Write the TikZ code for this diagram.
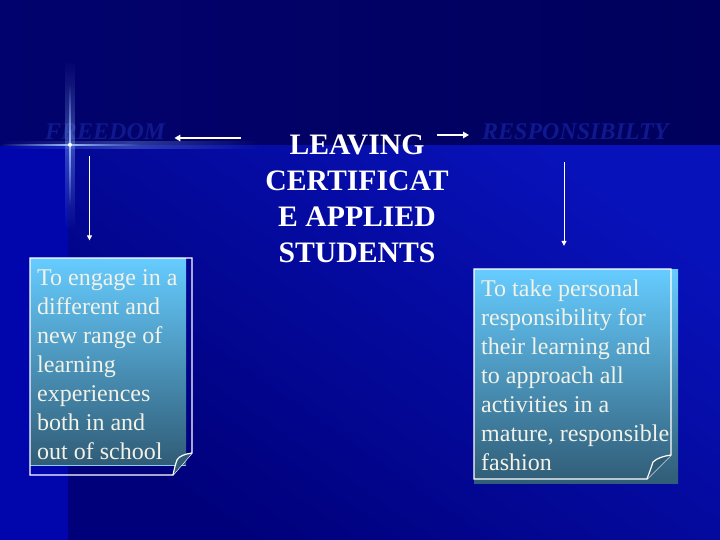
\documentclass[tikz,border=0pt]{standalone}
\usepackage{fontspec}
\setmainfont{Liberation Serif}
\usetikzlibrary{arrows.meta,fadings,calc}
\definecolor{topbgL}{RGB}{2,2,110}
\definecolor{topbgR}{RGB}{0,0,92}
\definecolor{lowA}{RGB}{8,18,186}
\definecolor{lowB}{RGB}{0,0,122}
\definecolor{strip}{RGB}{0,6,172}
\definecolor{boxtop}{RGB}{102,204,255}
\definecolor{boxbot}{RGB}{48,92,118}
\definecolor{txt}{RGB}{242,242,232}
\definecolor{ghost}{RGB}{16,24,142}
\definecolor{flare}{RGB}{150,190,255}
\definecolor{lightline}{RGB}{140,200,240}
\tikzfading[name=vfade, top color=transparent!100, bottom color=transparent!100, middle color=transparent!0]
\tikzfading[name=hfade, left color=transparent!100, right color=transparent!100, middle color=transparent!0]
\tikzset{
  titletxt/.style={font=\fontsize{29.7}{36}\selectfont\bfseries, text=white, align=center, inner sep=0pt},
  bodytxt/.style={font=\fontsize{24}{29}\selectfont, text=txt, align=left, inner sep=0pt},
  ghosttxt/.style={font=\fontsize{24}{29}\selectfont\bfseries\itshape, text=ghost, inner sep=0pt},
  harr/.style={draw=white, line width=1.6pt, -{Triangle[length=6pt,width=6.5pt]}},
  varr/.style={draw=white, line width=1pt, -{Triangle[length=5pt,width=5pt]}},
  pageline/.style={draw=white, line width=1.2pt, line join=miter},
}
\begin{document}
\begin{tikzpicture}[x=1pt,y=-1pt]
\useasboundingbox (0,0) rectangle (720,540);
% background
\shade[left color=topbgL, right color=topbgR] (0,0) rectangle (720,146);
\shade[top color=lowA, bottom color=lowB, shading angle=-35] (68,146) rectangle (720,540);
\fill[strip] (0,146) rectangle (68,540);
% ghost labels
\node[ghosttxt, anchor=base west] (freedom) at (45,140) {FREEDOM};
\node[ghosttxt, anchor=base west] (resp) at (482,140) {RESPONSIBILTY};
% flare
\fill[flare, opacity=0.35, path fading=vfade] (65,60) rectangle (75,230);
\fill[flare, path fading=vfade] (68.8,85) rectangle (71.2,205);
\fill[flare, opacity=0.3, path fading=hfade] (0,141) rectangle (260,149);
\fill[flare, path fading=hfade] (0,143.6) rectangle (140,146);
\fill[white] (70,144.8) circle (2);
% title (base anchor = last line baseline)
\node[titletxt, anchor=base] (title) at (357,262) {LEAVING\\CERTIFICAT\\E APPLIED\\STUDENTS};
% left page
\shade[top color=boxtop, bottom color=boxbot] (30,258) rectangle (186,465);
\draw[lightline, line width=1pt] (30,465) -- (186,465);
\draw[pageline] (30,258) -- (192,258) -- (192,453) -- (173,475) -- (30,475) -- cycle;
\draw[pageline, fill=boxbot] (192,453) .. controls (185,454) and (179,456) .. (177,460) .. controls (175,466) .. (173,475);
% right page
\shade[top color=boxtop, bottom color=boxbot] (474,269) rectangle (678,483);
\draw[pageline] (474,269) -- (671,269) -- (671,455) -- (647,479) -- (474,479) -- cycle;
\draw[pageline, fill=boxbot] (671,455) .. controls (664,456) and (657,458) .. (653,462) .. controls (651,468) .. (647,479);
% body texts
\node[bodytxt, anchor=base west] (lefttxt) at (37,459) {To engage in a\\different and\\new range of\\learning\\experiences\\both in and\\out of school};
\node[bodytxt, anchor=base west] (righttxt) at (481,470.7) {To take personal\\responsibility for\\their learning and\\to approach all\\activities in a\\mature, responsible\\fashion};
% arrows
\draw[harr] ([xshift=-24pt,yshift=2pt]title.west |- freedom.base) -- ([xshift=9pt,yshift=2pt]freedom.base east);
\draw[harr] ([xshift=-12pt,yshift=5pt]title.east |- resp.base) -- ([xshift=-13pt,yshift=5pt]resp.base west);
\draw[varr] ([xshift=44.5pt,yshift=-16pt]freedom.base west) -- ([xshift=52.5pt,yshift=28.5pt]lefttxt.north west);
\draw[varr] ([xshift=82pt,yshift=-22pt]resp.base west) -- ([xshift=83pt,yshift=34pt]righttxt.north west);
\end{tikzpicture}
\end{document}
